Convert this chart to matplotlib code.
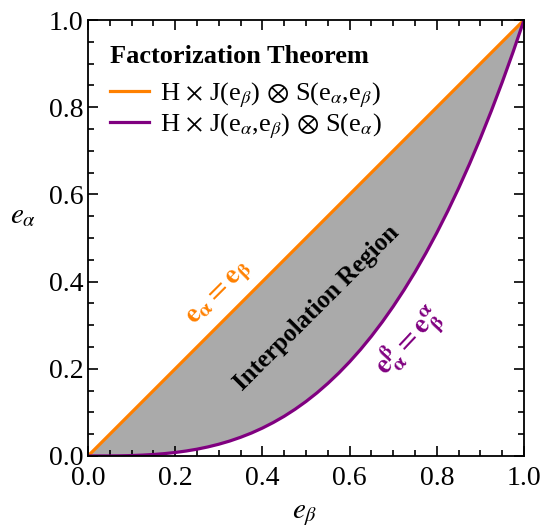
import matplotlib
matplotlib.use("Agg")
import matplotlib.pyplot as plt
from matplotlib.ticker import MultipleLocator

plt.rcParams['font.family'] = ['Liberation Serif', 'DejaVu Serif']
plt.rcParams['mathtext.fontset'] = 'stix'

# e_beta grid and boundary values
e_beta = [0.0, 0.025, 0.05, 0.075, 0.1, 0.125, 0.15, 0.175, 0.2, 0.225,
          0.25, 0.275, 0.3, 0.325, 0.35, 0.375, 0.4, 0.425, 0.45, 0.475,
          0.5, 0.525, 0.55, 0.575, 0.6, 0.625, 0.65, 0.675, 0.7, 0.725,
          0.75, 0.775, 0.8, 0.825, 0.85, 0.875, 0.9, 0.925, 0.95, 0.975, 1.0]
upper = e_beta  # orange: e_alpha = e_beta
lower = [0.0, 0.00002, 0.0001, 0.0004, 0.001, 0.002, 0.0034, 0.0054, 0.008, 0.0114,
         0.0156, 0.0208, 0.027, 0.0343, 0.0429, 0.0527, 0.064, 0.0768, 0.0911, 0.1072,
         0.125, 0.1447, 0.1664, 0.1901, 0.216, 0.2441, 0.2746, 0.3075, 0.343, 0.3811,
         0.4219, 0.4655, 0.512, 0.5615, 0.6141, 0.6699, 0.729, 0.7915, 0.8574, 0.9269, 1.0]

orange = '#ff8000'
purple = '#800080'

fig = plt.figure(figsize=(5.41, 5.28), dpi=100)
ax = fig.add_axes([0.1627, 0.1364, 0.8059, 0.8257])

ax.fill_between(e_beta, lower, upper, color='#aaaaaa', lw=0)
ax.plot(e_beta, upper, color=orange, lw=2.3,
        label=r'H $\times$ J(e$_\beta$) $\otimes$ S(e$_\alpha$,e$_\beta$)')
ax.plot(e_beta, lower, color=purple, lw=2.3,
        label=r'H $\times$ J(e$_\alpha$,e$_\beta$) $\otimes$ S(e$_\alpha$)')

ax.set_xlim(0, 1)
ax.set_ylim(0, 1)
ax.xaxis.set_major_locator(MultipleLocator(0.2))
ax.yaxis.set_major_locator(MultipleLocator(0.2))
ax.xaxis.set_minor_locator(MultipleLocator(0.05))
ax.yaxis.set_minor_locator(MultipleLocator(0.05))
ax.tick_params(which='both', direction='in', top=True, right=True, labelsize=20, width=1.2)
ax.tick_params(which='major', length=7)
ax.tick_params(which='minor', length=4)
ax.tick_params(axis='x', pad=7)
for s in ax.spines.values():
    s.set_linewidth(1.3)

ax.set_xlabel(r'$e_\beta$', fontsize=21, va='center')
ax.xaxis.set_label_coords(0.498, -0.135)
ax.set_ylabel(r'$e_\alpha$', fontsize=21, rotation=0, va='center')
ax.yaxis.set_label_coords(-0.148, 0.55)

# legend with its title drawn separately
ax.text(0.05, 0.917, 'Factorization Theorem', fontsize=19, fontweight='bold',
        ha='left', va='center', transform=ax.transAxes)
ax.legend(loc='upper left', bbox_to_anchor=(0.05, 0.862), frameon=False, fontsize=19,
          handlelength=1.5, handletextpad=0.4, borderpad=0, borderaxespad=0,
          labelspacing=0.08)

ax.text(0.305, 0.37, r'$\mathbf{e_\alpha = e_\beta}$', color=orange, fontsize=20,
        rotation=45, ha='center', va='center')
ax.text(0.525, 0.34, 'Interpolation Region', fontsize=18, fontweight='bold',
        rotation=45, ha='center', va='center')
ax.text(0.738, 0.26, r'$\mathbf{e_\alpha^\beta = e_\beta^\alpha}$', color=purple, fontsize=20,
        rotation=47, ha='center', va='center')

fig.savefig('out.png', dpi=100)
